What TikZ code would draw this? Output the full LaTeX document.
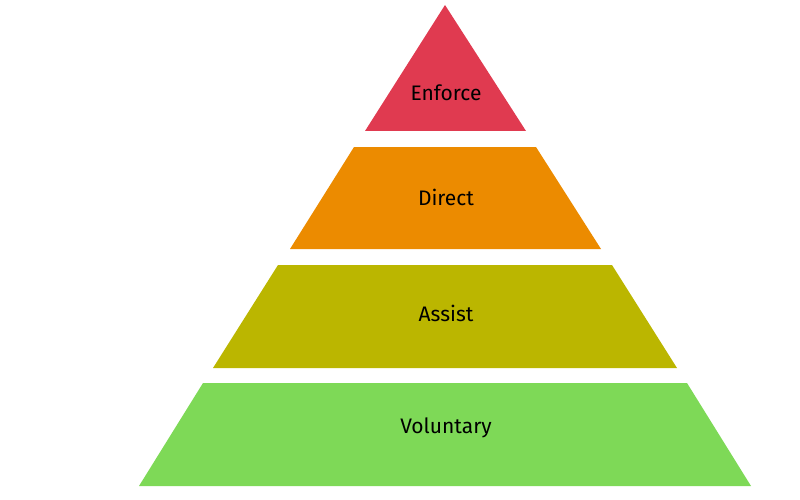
\documentclass[tikz,border=0pt]{standalone}
\usepackage{fontspec}
\setmainfont{Fira Sans}
\definecolor{cred}{HTML}{E03A50}
\definecolor{corange}{HTML}{EC8B00}
\definecolor{colive}{HTML}{BBB600}
\definecolor{cgreen}{HTML}{7ED957}
\begin{document}
\begin{tikzpicture}[x=1pt,y=-1pt,
  lvl/.style={font=\fontsize{21}{24}\selectfont, text=black}]
\useasboundingbox (0,0) rectangle (800,500);
\fill[cred] (445,5) -- (526,131) -- (365,131) -- cycle;
\fill[corange] (354,147) -- (536,147) -- (601,249) -- (290,249) -- cycle;
\fill[colive] (278,265) -- (612,265) -- (677,368) -- (213,368) -- cycle;
\fill[cgreen] (203,383) -- (687,383) -- (751,486) -- (139,486) -- cycle;
\node[lvl] (enforce) at (446,93) {Enforce};
\node[lvl] (direct) at (446,197) {Direct};
\node[lvl] (assist) at (446,313) {Assist};
\node[lvl] (voluntary) at (446,428) {Voluntary};
\end{tikzpicture}
\end{document}
